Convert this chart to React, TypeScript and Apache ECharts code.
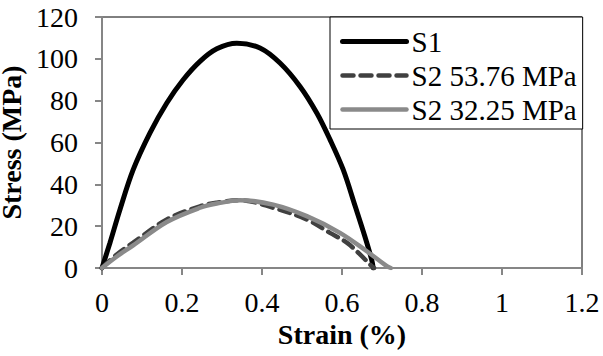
import React, { useEffect, useRef } from "react";
import * as echarts from "echarts";

// Strain (%) / stress (MPa) samples for each specimen
const s1Strain = [0, 0.02, 0.045, 0.078, 0.12, 0.162, 0.203, 0.245, 0.287, 0.337, 0.395, 0.445, 0.495, 0.537, 0.57, 0.603, 0.633, 0.657, 0.674, 0.678];
const s1Stress = [0, 12.1, 28, 47, 64.6, 78.9, 90, 98.8, 104.8, 107.5, 105.2, 98, 86.8, 74.1, 61.4, 47, 29.5, 15.2, 4.1, 0];

const s2aStrain = [0, 0.037, 0.078, 0.162, 0.245, 0.287, 0.345, 0.428, 0.512, 0.57, 0.612, 0.645, 0.67, 0.68];
const s2aStress = [0, 6.5, 12.1, 23.2, 29.5, 31.2, 32.4, 28.8, 23.2, 16.8, 12.1, 6.5, 1.7, 0];

const s2bStrain = [0, 0.037, 0.078, 0.162, 0.245, 0.287, 0.345, 0.428, 0.512, 0.595, 0.662, 0.712, 0.722];
const s2bStress = [0, 5.5, 10.8, 22, 28.8, 30.8, 32.4, 30.3, 24.8, 16.8, 8, 0.9, 0];

const seriesNames = ["S1", "S2 53.76 MPa", "S2 32.25 MPa"];

const xTicks = { min: 0, max: 1.2, interval: 0.2 };
const yTicks = { min: 0, max: 120, interval: 20 };

const FONT = "Liberation Serif";
const AXIS_GRAY = "#868686";

const zip = (xs: number[], ys: number[]) => xs.map((x, i) => [x, ys[i]]);

export default function App() {
  const ref = useRef<HTMLDivElement>(null);

  useEffect(() => {
    if (!ref.current) return;
    const chart = echarts.init(ref.current, null, { renderer: "svg" });
    const lineSeries = (name: string, data: number[][], color: string, width: number, type: any) => ({
      name,
      type: "line",
      data,
      smooth: 0.35,
      symbol: "none",
      showSymbol: false,
      color,
      lineStyle: { color, width, type, cap: "round" },
    });
    const labelStyle = { fontFamily: FONT, fontSize: 28, color: "#000000" };
    const titleStyle = { fontFamily: FONT, fontSize: 28, fontWeight: "bold", color: "#000000" };
    chart.setOption({
      animation: false,
      backgroundColor: "#ffffff",
      textStyle: { fontFamily: FONT },
      grid: {
        left: 102,
        right: 21,
        top: 17,
        bottom: 88,
        containLabel: false,
        outerBoundsMode: "none",
        show: true,
        borderColor: "#000000",
        borderWidth: 1,
        backgroundColor: "transparent",
      },
      legend: {
        orient: "vertical",
        left: 330,
        top: 17,
        padding: [10, 6, 5, 10],
        itemWidth: 64,
        itemHeight: 14,
        itemGap: 5,
        borderColor: "#000000",
        borderWidth: 1,
        backgroundColor: "#ffffff",
        itemStyle: { opacity: 0 },
        lineStyle: { width: "inherit" },
        textStyle: { fontFamily: FONT, fontSize: 29, color: "#000000" },
        data: seriesNames,
      },
      xAxis: {
        type: "value",
        min: xTicks.min,
        max: xTicks.max,
        interval: xTicks.interval,
        name: "Strain (%)",
        nameLocation: "middle",
        nameGap: 50,
        nameTextStyle: titleStyle,
        axisLine: { show: true, lineStyle: { color: AXIS_GRAY, width: 2 } },
        axisTick: { show: true, inside: false, length: 7, lineStyle: { color: AXIS_GRAY, width: 2 } },
        axisLabel: { ...labelStyle, margin: 20 },
        splitLine: { show: false },
      },
      yAxis: {
        type: "value",
        min: yTicks.min,
        max: yTicks.max,
        interval: yTicks.interval,
        name: "Stress (MPa)",
        nameLocation: "middle",
        nameGap: 56,
        nameTextStyle: titleStyle,
        axisLine: { show: true, lineStyle: { color: AXIS_GRAY, width: 2 } },
        axisTick: { show: true, inside: false, length: 7, lineStyle: { color: AXIS_GRAY, width: 2 } },
        axisLabel: { ...labelStyle, margin: 24 },
        splitLine: { show: false },
      },
      series: [
        lineSeries(seriesNames[0], zip(s1Strain, s1Stress), "#000000", 5, "solid"),
        lineSeries(seriesNames[1], zip(s2aStrain, s2aStress), "#404040", 4.5, [11, 7]),
        lineSeries(seriesNames[2], zip(s2bStrain, s2bStress), "#8a8a8a", 4.5, "solid"),
      ],
    });
    return () => chart.dispose();
  }, []);

  return (
    <div
      ref={ref}
      style={{ position: "fixed", left: 0, top: 0, width: 603, height: 356, background: "#ffffff" }}
    />
  );
}
